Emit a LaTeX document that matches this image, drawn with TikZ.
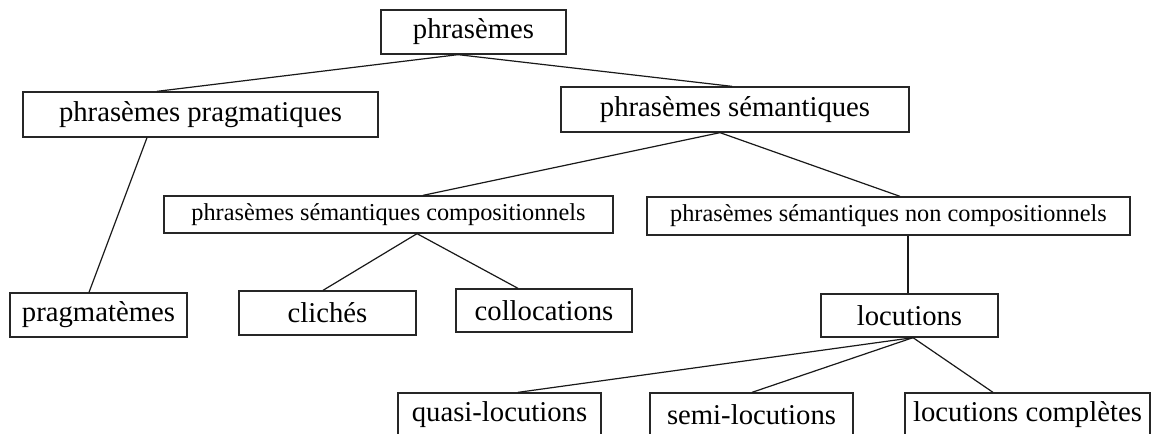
\documentclass[tikz,border=0pt]{standalone}
\usepackage{fontspec}
\setmainfont{Liberation Serif}
\begin{document}
\begin{tikzpicture}[x=1pt,y=1pt,
  box/.style={draw=black!85, line width=1.3pt, inner sep=0pt, fill=white,
              font=\fontsize{28.7}{30}\selectfont},
  sbox/.style={box, font=\fontsize{24.3}{26}\selectfont},
  link/.style={draw=black!90, line width=1.2pt}]
\useasboundingbox (0,0) rectangle (1152,-434);
\fill[white] (0,0) rectangle (1152,-434);
% row 1
\node[box, minimum width=185pt, minimum height=44pt] (ph) at (473.5,-32) {phrasèmes};
% row 2
\node[box, minimum width=355pt, minimum height=45pt] (prag) at (200.5,-114.5) {phrasèmes pragmatiques};
\node[box, minimum width=348pt, minimum height=45pt] (sem) at (735,-109.5) {phrasèmes sémantiques};
% row 3
\node[sbox, minimum width=449pt, minimum height=37pt] (comp) at (388.5,-214.5) {phrasèmes sémantiques compositionnels};
\node[sbox, minimum width=483pt, minimum height=38pt] (ncomp) at (888.5,-216) {phrasèmes sémantiques non compositionnels};
% row 4
\node[box, minimum width=177pt, minimum height=44pt] (pragm) at (98.5,-315) {pragmatèmes};
\node[box, minimum width=177pt, minimum height=44pt] (cli) at (327.5,-313) {clichés};
\node[box, minimum width=176pt, minimum height=43pt] (coll) at (544,-310.5) {collocations};
\node[box, minimum width=177pt, minimum height=43pt] (loc) at (909.5,-315.5) {locutions};
% row 5
\node[box, minimum width=203pt, minimum height=44pt] (quasi) at (499.5,-415) {quasi-locutions};
\node[box, minimum width=203pt, minimum height=44pt] (semi) at (751.5,-415) {semi-locutions};
\node[box, minimum width=245pt, minimum height=44pt] (compl) at (1027.5,-415) {locutions complètes};
% connectors
\draw[link] ([xshift=-15.5pt]ph.south) -- ([xshift=-43.5pt]prag.north);
\draw[link] ([xshift=-15.5pt]ph.south) -- ([xshift=-3pt]sem.north);
\draw[link] ([xshift=-15pt]sem.south) -- ([xshift=34.5pt]comp.north);
\draw[link] ([xshift=-15pt]sem.south) -- ([xshift=11.5pt]ncomp.north);
\draw[link] ([xshift=-53.5pt]prag.south) -- ([xshift=-9.5pt]pragm.north);
\draw[link] ([xshift=28.5pt]comp.south) -- ([xshift=-4.5pt]cli.north);
\draw[link] ([xshift=28.5pt]comp.south) -- ([xshift=-26pt]coll.north);
\draw[link] ([xshift=19.5pt]ncomp.south) -- ([xshift=-1.5pt]loc.north);
\draw[link] ([xshift=3.5pt]loc.south) -- ([xshift=18.5pt]quasi.north);
\draw[link] ([xshift=3.5pt]loc.south) -- ([xshift=0.5pt]semi.north);
\draw[link] ([xshift=3.5pt]loc.south) -- ([xshift=-34.5pt]compl.north);
\end{tikzpicture}
\end{document}
